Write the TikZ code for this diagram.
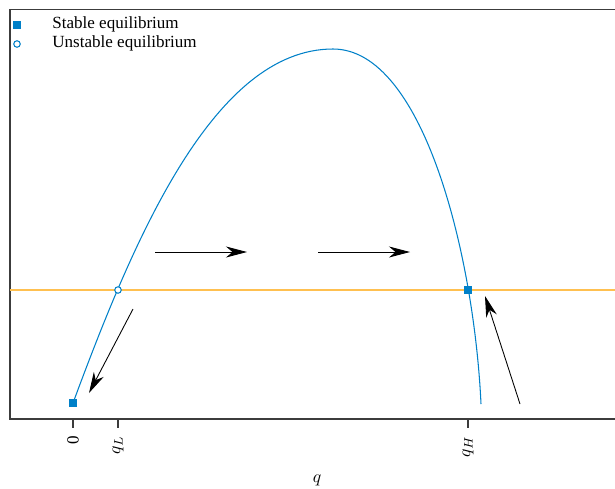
\documentclass[tikz,border=0pt]{standalone}
\usepackage{fontspec}
\setmainfont{Liberation Serif}
\usetikzlibrary{arrows.meta}
\definecolor{eqblue}{RGB}{0,128,200}
\definecolor{pline}{RGB}{255,192,80}
\definecolor{frm}{RGB}{60,60,60}
\begin{document}
\begin{tikzpicture}[x=0.02cm,y=-0.02cm,every node/.append style={font=\fontsize{9.7}{11}\selectfont}]
 \tikzstyle{st} = [rectangle, fill=eqblue, inner sep=0pt, minimum size=0.15cm]
    \tikzstyle{un} = [circle, draw=eqblue, fill=white, line width=0.6pt, inner sep=0pt, minimum size=0.13cm]
    \tikzstyle{e} = [line width=0.5pt, -{Stealth[length=0.42cm,width=0.22cm,inset=0.13cm]}]
    \tikzstyle{tl} = [rotate=90, anchor=east, inner sep=0pt]
    %%
    \useasboundingbox (0,0) rectangle (615,488);
    \draw[frm, line width=0.7pt] (615,9.5) -- (10,9.5) -- (10,419) -- (615,419);

    % price line and curve
    \draw[pline, line width=0.8pt] (10,290) -- (615,290);
    \coordinate (c0) at (73,403);
    \coordinate (top) at (333,49);
    \coordinate (c1) at (481,404);
    \draw[eqblue, line width=0.6pt] (c0) .. controls (133,241) and (213,49) .. (top)
        .. controls (423,49) and (474,254) .. (c1);

        \node[st] (s0) at (c0) {};
        \node[un] (uL) at (118,290) {};
        \node[st] (sH) at (468,290) {};

    % axis
        \node[tl] (t0) at (73,436) {0};
        \node[tl] (tL) at (118,436) {$q_L$};
        \node[tl] (tH) at (468,436) {$q_H$};
        \foreach \x in {73,118,468} \draw[frm, line width=0.7pt] (\x,419) -- (\x,428);
        \node (xl) at (317,480) {$q$};

    % legend
        \node[st] (ls) at (17,25) {};
        \node[un] (lu) at (17,44) {};
        \node[anchor=west, inner sep=0pt] (lst) at (52,24.5) {Stable equilibrium};
        \node[anchor=west, inner sep=0pt] (lun) at (52,43.5) {Unstable equilibrium};

    % dynamics
        \coordinate (a1) at (155,252); \coordinate (b1) at (247,252);
        \coordinate (a2) at (318,252); \coordinate (b2) at (410,252);
        \coordinate (a3) at (133,309); \coordinate (b3) at (89,393);
        \coordinate (a4) at (520,404); \coordinate (b4) at (485,296);
        \draw[e] (a1)--(b1); \draw[e] (a2)--(b2);
        \draw[e] (a3)--(b3); \draw[e] (a4)--(b4);
\end{tikzpicture}
\end{document}
